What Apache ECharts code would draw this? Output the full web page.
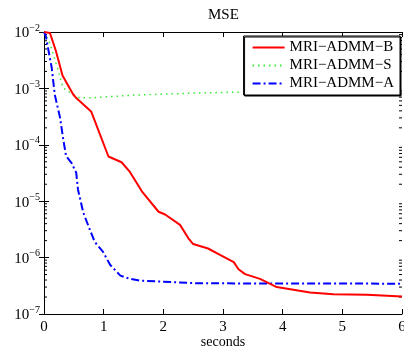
<!DOCTYPE html>
<html>
<head>
<meta charset="utf-8">
<script src="https://cdn.jsdelivr.net/npm/echarts@6/dist/echarts.min.js"></script>
<style>
  html, body { margin: 0; padding: 0; background: #fff; }
  #chart { width: 404px; height: 349px; }
</style>
</head>
<body>
<div id="chart"></div>
<script>
// series names
var seriesNames = ['MRI\u2212ADMM\u2212B', 'MRI\u2212ADMM\u2212S', 'MRI\u2212ADMM\u2212A'];

// MRI-ADMM-B (red, solid)
var bTime = [0, 0.1, 0.2, 0.31, 0.49, 0.55, 0.79, 1.08, 1.3, 1.44, 1.64, 1.92, 2.03, 2.28, 2.42, 2.5, 2.75, 2.95, 3.18, 3.26, 3.37, 3.62, 3.9, 4.46, 4.85, 5.41, 6];
var bMse = [1e-2, 9.6e-3, 4.6e-3, 1.7e-3, 7.8e-4, 6.6e-4, 3.9e-4, 6.2e-5, 4.9e-5, 3.3e-5, 1.5e-5, 6.5e-6, 5.8e-6, 3.8e-6, 2.2e-6, 1.74e-6, 1.45e-6, 1.12e-6, 8.3e-7, 6.2e-7, 5.1e-7, 4.2e-7, 3.0e-7, 2.4e-7, 2.24e-7, 2.19e-7, 2.04e-7];

// MRI-ADMM-S (green, dotted)
var sTime = [0, 0.1, 0.21, 0.32, 0.49, 0.6, 0.8, 1.5, 2.6, 4, 6];
var sMse = [1e-2, 6.3e-3, 2.6e-3, 1.02e-3, 7.8e-4, 6.8e-4, 6.8e-4, 7.6e-4, 8.3e-4, 8.9e-4, 9.5e-4];

// MRI-ADMM-A (blue, dash-dot)
var aTime = [0, 0.03, 0.13, 0.18, 0.27, 0.32, 0.37, 0.46, 0.54, 0.57, 0.66, 0.77, 0.85, 0.99, 1.11, 1.28, 1.44, 1.61, 2.6, 6];
var aMse = [1e-2, 8.5e-3, 2.3e-3, 7.8e-4, 3.0e-4, 1.3e-4, 6.3e-5, 4.8e-5, 3.2e-5, 1.6e-5, 6.2e-6, 3.1e-6, 1.9e-6, 1.26e-6, 7.4e-7, 4.8e-7, 4.2e-7, 3.9e-7, 3.5e-7, 3.45e-7];

// axis ranges
var xMin = 0, xMax = 6;
var yMin = 1e-7, yMax = 1e-2;
var decades = [-7, -6, -5, -4, -3];
var minorMult = [2, 3, 4, 5, 6, 7, 8, 9];

function pairs(t, v) {
  var out = [];
  for (var i = 0; i < t.length; i++) out.push([t[i], v[i]]);
  return out;
}

var minorTicks = [];
decades.forEach(function (d) {
  minorMult.forEach(function (m) { minorTicks.push([xMin, m * Math.pow(10, d)]); });
});

var serif = 'Liberation Serif';

var chart = echarts.init(document.getElementById('chart'));
chart.setOption({
  animation: false,
  title: {
    text: 'MSE',
    left: 208,
    top: 8,
    padding: 0,
    textStyle: { fontFamily: serif, fontSize: 15, fontWeight: 'normal', color: '#000' }
  },
  legend: {
    data: seriesNames,
    orient: 'vertical',
    right: 4,
    top: 36,
    itemWidth: 32,
    itemHeight: 14,
    itemGap: 3,
    padding: [4, 6, 4, 8],
    backgroundColor: '#fff',
    borderColor: '#000',
    borderWidth: 1,
    shadowColor: '#000',
    shadowOffsetX: 1,
    shadowOffsetY: 1,
    shadowBlur: 0,
    itemStyle: { color: 'rgba(0,0,0,0)', borderColor: 'rgba(0,0,0,0)', borderWidth: 0 },
    textStyle: { fontFamily: serif, fontSize: 15, color: '#000' }
  },
  grid: { left: 44, right: 2, top: 32, bottom: 35, outerBoundsMode: 'none', containLabel: false },
  xAxis: [{
    type: 'value',
    min: xMin, max: xMax, interval: 1,
    name: 'seconds',
    nameLocation: 'middle',
    nameGap: 21,
    nameMoveOverlap: false,
    nameTextStyle: { fontFamily: serif, fontSize: 14, color: '#000' },
    axisLine: { lineStyle: { color: '#000', width: 1 } },
    axisTick: { inside: true, length: 5, lineStyle: { color: '#000' } },
    axisLabel: { fontFamily: serif, fontSize: 15, color: '#000', margin: 6, hideOverlap: false },
    splitLine: { show: false }
  }, {
    type: 'value',
    position: 'top',
    min: xMin, max: xMax, interval: 1,
    axisLine: { lineStyle: { color: '#000', width: 1 } },
    axisTick: { inside: true, length: 5, lineStyle: { color: '#000' } },
    axisLabel: { show: false },
    splitLine: { show: false }
  }],
  yAxis: [{
    type: 'log',
    logBase: 10,
    min: yMin, max: yMax, interval: 1,
    axisLine: { show: true, lineStyle: { color: '#000', width: 1 } },
    axisTick: { inside: true, length: 5, lineStyle: { color: '#000' } },
    axisLabel: {
      margin: 4,
      formatter: function (v) {
        var e = Math.round(Math.log10(v));
        return '{b|10}{s|\u2212' + Math.abs(e) + '}';
      },
      rich: {
        b: { fontFamily: serif, fontSize: 15, color: '#000', lineHeight: 18, verticalAlign: 'bottom' },
        s: { fontFamily: serif, fontSize: 10, color: '#000', lineHeight: 18, verticalAlign: 'top' }
      }
    },
    splitLine: { show: false }
  }, {
    type: 'log',
    logBase: 10,
    position: 'right',
    min: yMin, max: yMax, interval: 1,
    axisLine: { show: true, lineStyle: { color: '#000', width: 1 } },
    axisTick: { inside: true, length: 5, lineStyle: { color: '#000' } },
    axisLabel: { show: false },
    splitLine: { show: false }
  }],
  series: [{
    name: seriesNames[0],
    type: 'line',
    data: pairs(bTime, bMse),
    symbol: 'none',
    lineStyle: { color: '#ff0000', width: 2 },
    itemStyle: { color: '#ff0000' },
    z: 3
  }, {
    name: seriesNames[1],
    type: 'line',
    data: pairs(sTime, sMse),
    symbol: 'none',
    lineStyle: { color: '#33ee33', width: 1.5, type: [1.5, 4] },
    itemStyle: { color: '#33ee33' },
    z: 2
  }, {
    name: seriesNames[2],
    type: 'line',
    data: pairs(aTime, aMse),
    symbol: 'none',
    lineStyle: { color: '#0000ff', width: 2, type: [8, 3, 2, 3] },
    itemStyle: { color: '#0000ff' },
    z: 2
  }, {
    // minor ticks of the log axis, left and right
    type: 'custom',
    silent: true,
    data: minorTicks,
    encode: { x: 0, y: 1 },
    renderItem: function (params, api) {
      var v = api.value(1);
      var p0 = api.coord([xMin, v]);
      var p1 = api.coord([xMax, v]);
      return {
        type: 'group',
        children: [
          { type: 'line', shape: { x1: p0[0], y1: p0[1], x2: p0[0] + 3, y2: p0[1] }, style: { stroke: '#000', lineWidth: 1 } },
          { type: 'line', shape: { x1: p1[0] - 3, y1: p1[1], x2: p1[0], y2: p1[1] }, style: { stroke: '#000', lineWidth: 1 } }
        ]
      };
    },
    z: 1
  }]
});
</script>
</body>
</html>
